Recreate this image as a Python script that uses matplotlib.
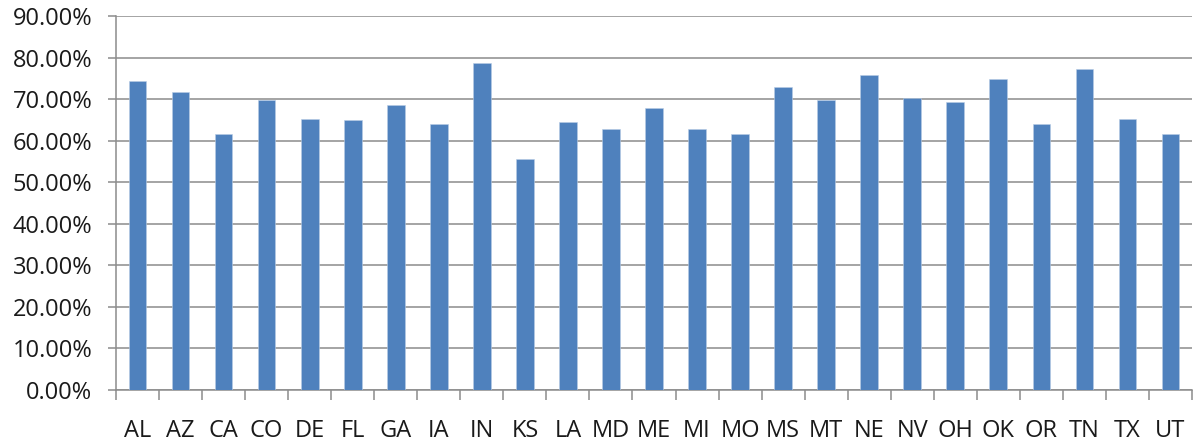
import numpy as np
import matplotlib
matplotlib.use("Agg")
import matplotlib.pyplot as plt
from matplotlib.ticker import FuncFormatter, MultipleLocator

states = ['AL', 'AZ', 'CA', 'CO', 'DE', 'FL', 'GA', 'IA', 'IN', 'KS', 'LA', 'MD', 'ME',
          'MI', 'MO', 'MS', 'MT', 'NE', 'NV', 'OH', 'OK', 'OR', 'TN', 'TX', 'UT']
rates = [74.3, 71.8, 61.5, 69.8, 65.3, 65.0, 68.7, 64.0, 78.6, 55.7, 64.6, 62.8, 67.8,
         62.8, 61.5, 73.0, 69.8, 75.7, 70.2, 69.3, 74.8, 64.0, 77.3, 65.3, 61.5]

plt.rcParams['font.family'] = ['Open Sans', 'DejaVu Sans']
grid_col = '#8c8c8c'

fig = plt.figure(figsize=(11.93, 4.46), dpi=100)
ax = fig.add_axes([116 / 1193, 56 / 446, 1076 / 1193, 374 / 446])

x = np.arange(len(states))
ax.bar(x, rates, width=0.41, color='#4f81bd', edgecolor='#b9cde5', linewidth=0.4, zorder=3)

ax.set_xlim(-0.5, len(states) - 0.5)
ax.set_ylim(0, 90)
ax.yaxis.set_major_locator(MultipleLocator(10))
ax.yaxis.set_major_formatter(FuncFormatter(lambda v, _: f'{v:.2f}%'))
ax.grid(axis='y', color=grid_col, linewidth=1.1, zorder=0)

# category labels centred, tick marks on the category boundaries
ax.set_xticks(x)
ax.set_xticklabels(states)
ax.set_xticks(np.arange(-0.5, len(states), 1), minor=True)
ax.tick_params(axis='x', which='major', length=0, pad=21, labelsize=17, colors='#1a1a1a')
ax.tick_params(axis='x', which='minor', length=7, width=1.1, color=grid_col)
ax.tick_params(axis='y', length=6, width=1.1, color=grid_col, pad=11, labelsize=17,
               labelcolor='#1a1a1a')

for side in ['top', 'right']:
    ax.spines[side].set_visible(False)
for side in ['left', 'bottom']:
    ax.spines[side].set_color(grid_col)
    ax.spines[side].set_linewidth(1.1)

fig.savefig('out.png', dpi=100)
